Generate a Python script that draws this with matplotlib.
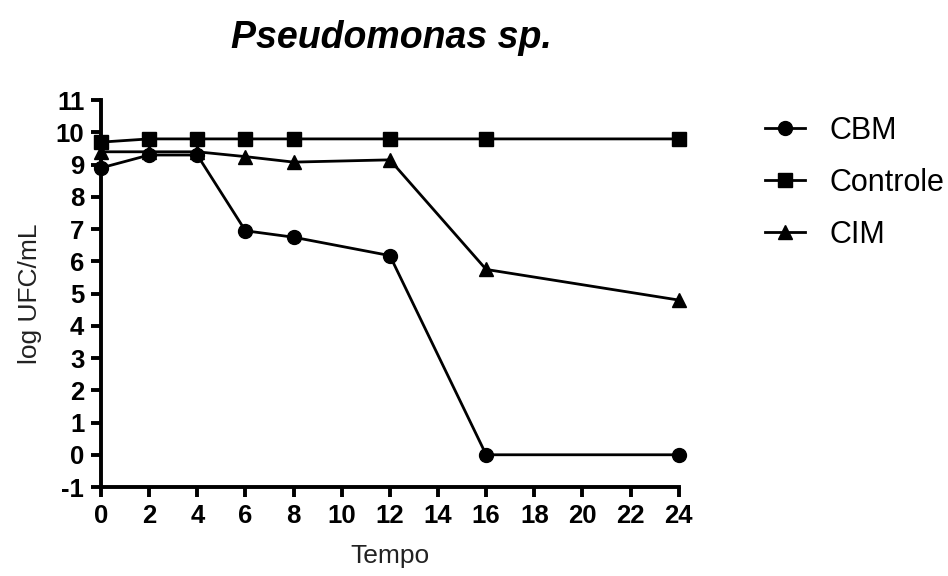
import matplotlib.pyplot as plt

plt.rcParams['font.family'] = ['Liberation Sans', 'DejaVu Sans']
plt.rcParams['axes.unicode_minus'] = False

# Time points (h) and log counts
tempo = [0, 2, 4, 6, 8, 12, 16, 24]
cbm = [8.9, 9.3, 9.3, 6.95, 6.75, 6.18, 0.0, 0.0]
controle = [9.7, 9.8, 9.8, 9.8, 9.8, 9.8, 9.8, 9.8]
cim = [9.4, 9.4, 9.4, 9.25, 9.08, 9.15, 5.75, 4.8]

x_ticks = list(range(0, 25, 2))
y_ticks = list(range(-1, 12))

fig = plt.figure(figsize=(9.48, 5.76), dpi=100)
ax = fig.add_axes([0.1065, 0.1545, 0.6095, 0.6715])

style = dict(color='black', linewidth=2.0, markersize=10, clip_on=False)
ax.plot(tempo, cbm, marker='o', label='CBM', zorder=3, **style)
ax.plot(tempo, controle, marker='s', label='Controle', zorder=3, **style)
ax.plot(tempo, cim, marker='^', label='CIM', zorder=3, **style)

ax.set_xlim(0, 24)
ax.set_ylim(-1, 11)
ax.set_xticks(x_ticks)
ax.set_yticks(y_ticks)

for side in ['top', 'right']:
    ax.spines[side].set_visible(False)
for side in ['left', 'bottom']:
    ax.spines[side].set_linewidth(2.8)

ax.tick_params(direction='out', width=2.8, length=7, labelsize=18.5, pad=5)
for lbl in ax.get_xticklabels() + ax.get_yticklabels():
    lbl.set_fontweight('bold')

ax.set_xlabel('Tempo', fontsize=19, color='#222222', labelpad=12)
ax.set_ylabel('log UFC/mL', fontsize=19, color='#222222', labelpad=10)
fig.text(0.413, 0.934, 'Pseudomonas sp.', ha='center', va='center',
         fontsize=27, fontweight='bold', fontstyle='italic')

ax.legend(loc='upper left', bbox_to_anchor=(1.149, 0.96), frameon=False,
          borderpad=0, borderaxespad=0, fontsize=22, handlelength=1.3,
          labelspacing=0.72, handletextpad=0.8)

fig.savefig('out.png', dpi=100)
